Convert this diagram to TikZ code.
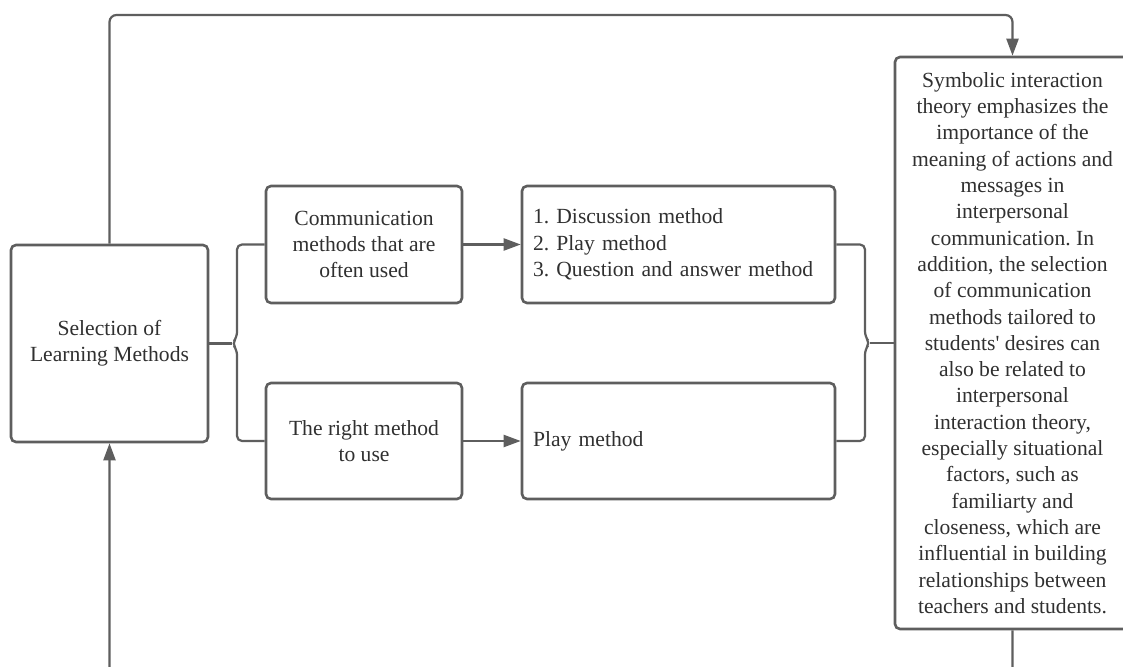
\documentclass[tikz,border=0pt]{standalone}
\usepackage{fontspec}
\setmainfont{Liberation Serif}[Ligatures=TeXOff]
\usetikzlibrary{arrows.meta}
\definecolor{ln}{HTML}{5E5E5E}
\definecolor{tx}{HTML}{303030}
\begin{document}
\frenchspacing
\begin{tikzpicture}[x=1pt,y=-1pt,
  box/.style={draw=ln, line width=2.6pt, rounded corners=5pt, text=tx,
    font=\fontsize{21.6}{26.3}\selectfont, align=center, inner sep=0pt},
  conn/.style={draw=ln, line width=2.2pt},
  arr/.style={conn, -{Triangle[length=17pt,width=12pt]}},
]
\useasboundingbox (0,0) rectangle (1123,666);
\fill[white] (0,0) rectangle (1123,666);
\clip (0,0) rectangle (1123,666);

\node[box, minimum width=197pt, minimum height=197pt] (A) at (109.5,343.5) {Selection of\\Learning Methods};
\node[box, minimum width=196pt, minimum height=117pt] (C1) at (364,244.5) {Communication\\methods that are\\often used};
\node[box, minimum width=196pt, minimum height=116pt] (C2) at (364,441) {The right method\\to use};
\node[box, text width=291pt, inner xsep=11pt, minimum height=117pt, align=left] (D1) at (678.5,244.5) {1. Discussion method\\2. Play method\\3. Question and answer method};
\node[box, text width=291pt, inner xsep=11pt, minimum height=116pt, align=left] (D2) at (678.5,441) {Play method};
\node[box, minimum width=235pt, minimum height=572pt] (R) at (1012.5,343) {Symbolic interaction\\theory emphasizes the\\importance of the\\meaning of actions and\\messages in\\interpersonal\\communication. In\\addition, the selection\\of communication\\methods tailored to\\students' desires can\\also be related to\\interpersonal\\interaction theory,\\especially situational\\factors, such as\\familiarty and\\closeness, which are\\influential in building\\relationships between\\teachers and students.};

% coordinates for brackets and loops
\coordinate (top) at (109.5,15);
\coordinate (bot) at (1012.5,700);
\coordinate (lt) at (232,343.5);
\coordinate (rt) at (870,343);

% top loop
\draw[arr, rounded corners=7pt] (A.north) -- (top) -| (R.north);
% bottom loop (runs off the page)
\draw[arr, rounded corners=7pt] (R.south) -- (bot) -| (A.south);

% left brace
\draw[conn] (A.east) -- (lt);
\draw[conn, rounded corners=5pt] (C1.west) -- (237,244.5) -- (237,337) -- (lt) -- (237,350) -- (237,441) -- (C2.west);

% arrows
\draw[arr] (C1.east) -- (D1.west);
\draw[arr] (C2.east) -- (D2.west);

% right brace
\draw[conn, rounded corners=5pt] (D1.east) -- (865,244.5) -- (865,336.5) -- (rt) -- (865,349.5) -- (865,441) -- (D2.east);
\draw[conn] (rt) -- (R.west);
\end{tikzpicture}
\end{document}
